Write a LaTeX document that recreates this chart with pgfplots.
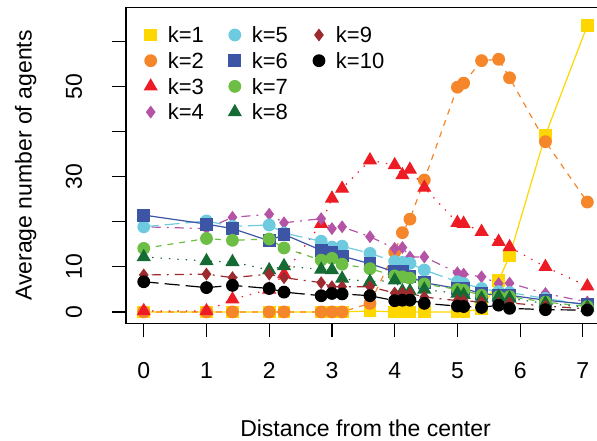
\documentclass[border=0pt]{standalone}
\usepackage{fontspec}
\setmainfont{Liberation Sans}
\usepackage{pgfplots}
\usepackage{pgfplotstable}
\pgfplotsset{compat=1.18}
\definecolor{c1}{HTML}{FFD700}
\definecolor{c2}{HTML}{F5862A}
\definecolor{c3}{HTML}{ED1C24}
\definecolor{c4}{HTML}{B554A6}
\definecolor{c5}{HTML}{6ECBDF}
\definecolor{c6}{HTML}{3C55A5}
\definecolor{c7}{HTML}{6CBE45}
\definecolor{c8}{HTML}{156B34}
\definecolor{c9}{HTML}{9D2A2E}
\definecolor{c10}{HTML}{000000}
\pgfplotstableread{
x     k1   k2   k3   k4   k5   k6   k7   k8   k9   k10
0.000 0    0    0.2  18.9 18.9 21.5 14.1 12.2 8.2  6.7
1.000 0    0    0.2  18.5 20.2 19.5 16.3 11.3 8.4  5.4
1.414 0    0    2.8  21.0 19.0 18.5 15.9 11.1 7.6  5.9
2.000 0    0    5.0  21.7 19.3 15.8 16.2 9.3  8.4  5.2
2.236 0    0    8.4  19.8 17.5 17.2 14.2 10.2 7.6  4.4
2.828 0    0    19.6 20.7 15.7 13.7 11.5 9.4  6.5  3.6
3.000 0    0    25.2 18.5 14.4 13.3 11.9 9.3  5.6  4.1
3.162 0    0    27.4 18.9 14.6 12.4 10.6 7.4  5.6  4.0
3.606 0.2  1.9  33.7 16.7 13.0 10.7 9.6  6.7  5.6  3.6
4.000 0    13.3 32.6 14.1 11.2 8.9  8.0  7.0  4.2  2.5
4.123 0    17.6 30.4 14.3 11.0 9.1  7.8  4.6  4.2  2.6
4.243 0    20.6 31.6 12.2 10.8 7.8  7.5  4.6  4.1  2.6
4.472 0    29.3 27.6 12.2 9.3  6.5  6.2  5.0  3.3  1.9
5.000 0    49.9 19.8 8.7  6.7  5.2  5.0  4.1  2.5  1.3
5.099 0    50.8 19.6 8.4  6.3  5.2  4.8  3.8  2.5  1.2
5.385 0.7  55.8 17.8 7.8  5.2  4.1  3.7  3.0  2.2  1.0
5.657 7.0  56.1 15.6 6.3  4.5  3.7  3.4  3.4  2.0  1.5
5.831 12.4 52.0 14.4 6.4  4.3  3.7  3.4  3.0  2.0  0.8
6.403 39.3 37.8 10.0 4.1  3.0  2.6  2.2  1.9  1.3  0.5
7.071 63.6 24.4 5.7  2.2  1.5  1.7  1.2  1.0  0.7  0.4
}\data
\pgfplotsset{
  ser/.style n args={4}{color=#1, line width=1.2pt, #2, mark=#3, mark size=#4,
    mark options={solid, draw=none, fill=#1},
    legend image code/.code={\path[draw=none, fill=none] (-14pt,0pt) -- (12pt,0pt);
      \draw[##1, only marks] plot coordinates {(6pt,0pt)};}},
  k1/.style={ser={c1}{solid}{square*}{5.8pt}},
  k2/.style={ser={c2}{dash pattern=on 6pt off 6pt}{*}{5.8pt}},
  k3/.style={ser={c3}{dash pattern=on 1.4pt off 7pt}{triangle*}{7pt}},
  k4/.style={ser={c4}{dash pattern=on 2pt off 6pt on 9pt off 6pt}{diamond*}{5.5pt}},
  k5/.style={ser={c5}{dash pattern=on 15pt off 6pt}{*}{5.8pt}},
  k6/.style={ser={c6}{solid}{square*}{5.8pt}},
  k7/.style={ser={c7}{dash pattern=on 6pt off 6pt}{*}{5.8pt}},
  k8/.style={ser={c8}{dash pattern=on 1.4pt off 7pt}{triangle*}{7pt}},
  k9/.style={ser={c9}{dash pattern=on 2pt off 6pt on 9pt off 6pt}{diamond*}{5.5pt}},
  k10/.style={ser={c10}{dash pattern=on 15pt off 6pt}{*}{5.8pt}},
}
\begin{document}
\begin{tikzpicture}
\begin{axis}[
  at={(126pt,116.6pt)}, anchor=south west,
  scale only axis, width=479.1pt, height=315.9pt,
  xmin=-0.283, xmax=7.354, ymin=-2.55, ymax=67.6,
  xtick={0,1,...,7}, ytick={0,10,...,60}, yticklabels={0,10,,30,,50,},
  xtick pos=left, ytick pos=left, tick align=outside,
  major tick length=14pt,
  every tick/.style={black, line width=1.2pt},
  axis line style={line width=1.6pt},
  font=\fontsize{23}{27}\selectfont,
  tick label style={font=\fontsize{23}{27}\selectfont},
  /pgf/number format/assume math mode=true,
  xticklabel style={anchor=base}, xticklabel shift=41pt,
  yticklabel style={rotate=90, anchor=base}, yticklabel shift=30pt,
  xlabel={Distance from the center}, ylabel={Average number of agents},
  xlabel style={at={(axis description cs:0.5,-0.357)}, anchor=base},
  ylabel style={at={(axis description cs:-0.197,0.5)}, anchor=base},
  legend columns=3, legend cell align=left,
  legend style={draw=none, fill=none, inner sep=0pt, outer sep=0pt,
    at={(axis description cs:0.0098,0.938)}, anchor=north west,
    font=\fontsize{22}{26}\selectfont,
    nodes={inner sep=0pt, text height=15.8pt, text depth=0pt},
    column sep=11pt, row sep=9.9pt},
]
\addplot[k1, forget plot] table[x=x, y=k1] {\data};
\addplot[k2, forget plot] table[x=x, y=k2] {\data};
\addplot[k3, forget plot] table[x=x, y=k3] {\data};
\addplot[k4, forget plot] table[x=x, y=k4] {\data};
\addplot[k5, forget plot] table[x=x, y=k5] {\data};
\addplot[k6, forget plot] table[x=x, y=k6] {\data};
\addplot[k7, forget plot] table[x=x, y=k7] {\data};
\addplot[k8, forget plot] table[x=x, y=k8] {\data};
\addplot[k9, forget plot] table[x=x, y=k9] {\data};
\addplot[k10, forget plot] table[x=x, y=k10] {\data};
\addlegendimage{k1}\addlegendentry{k=1}
\addlegendimage{k5}\addlegendentry{k=5}
\addlegendimage{k9}\addlegendentry{k=9}
\addlegendimage{k2}\addlegendentry{k=2}
\addlegendimage{k6}\addlegendentry{k=6}
\addlegendimage{k10}\addlegendentry{k=10}
\addlegendimage{k3}\addlegendentry{k=3}
\addlegendimage{k7}\addlegendentry{k=7}
\addlegendimage{empty legend}\addlegendentry{}
\addlegendimage{k4}\addlegendentry{k=4}
\addlegendimage{k8}\addlegendentry{k=8}
\end{axis}
\pgfresetboundingbox
\path (0pt,0pt) rectangle (597pt,440pt);
\end{tikzpicture}
\end{document}
